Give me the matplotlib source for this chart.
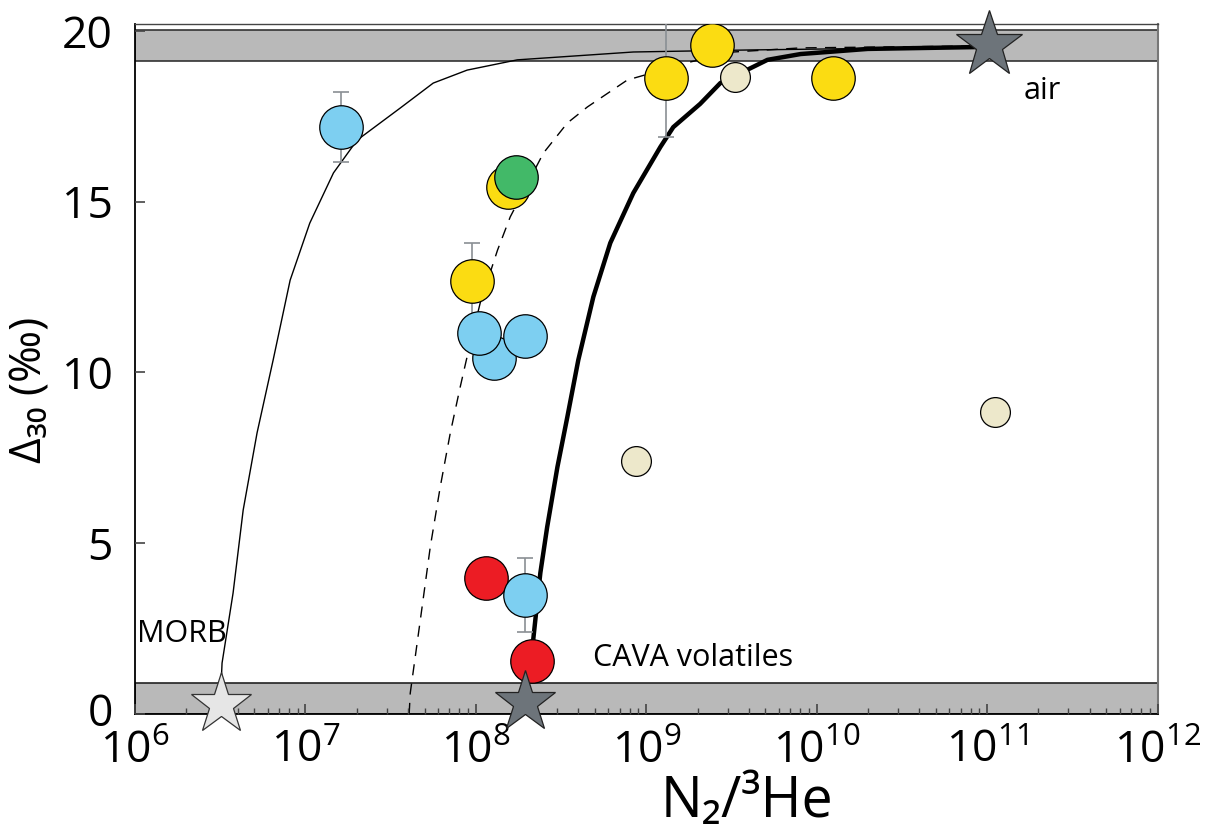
import matplotlib
matplotlib.use("Agg")
import matplotlib.pyplot as plt
import matplotlib.transforms as mtransforms

plt.rcParams['font.family'] = ['Open Sans', 'DejaVu Sans']
plt.rcParams['mathtext.fontset'] = 'custom'
plt.rcParams['mathtext.rm'] = 'Open Sans'
plt.rcParams['mathtext.it'] = 'Open Sans'
plt.rcParams['mathtext.bf'] = 'Open Sans'

# data points (N2/3He, Delta30)
blue_x = [1.28e8, 1.62e7, 1.05e8, 1.95e8, 1.95e8]
blue_y = [10.42, 17.18, 11.15, 11.07, 3.48]
yellow_x = [9.5e7, 1.55e8, 1.31e9, 2.44e9, 1.24e10]
yellow_y = [12.68, 15.43, 18.62, 19.58, 18.62]
green_x = [1.73e8]
green_y = [15.72]
red_x = [1.15e8, 2.14e8]
red_y = [3.98, 1.55]
beige_x = [3.33e9, 8.75e8, 1.12e11]
beige_y = [18.65, 7.41, 8.84]

# error bars
err_x = [1.62e7, 9.5e7, 1.31e9, 1.95e8]
err_y = [17.18, 12.68, 18.62, 3.48]
err_v = [1.02, 1.1, 1.73, 1.08]

# end members
morb = (3.2e6, 0.28)
cava = (1.95e8, 0.35)
air = (1.02e11, 19.58)

# mixing curves
thin_x = [3.16e6, 3.24e6, 3.76e6, 4.31e6, 5.20e6, 6.46e6, 8.13e6, 1.06e7, 1.46e7,
          2.01e7, 2.64e7, 3.60e7, 5.62e7, 8.89e7, 1.75e8, 8.39e8, 4.08e9, 1.02e11]
thin_y = [0.26, 1.49, 3.54, 5.97, 8.23, 10.36, 12.70, 14.37, 15.84,
          16.80, 17.24, 17.74, 18.47, 18.85, 19.15, 19.38, 19.44, 19.53]
dash_x = [4.06e7, 4.12e7, 4.72e7, 5.40e7, 6.18e7, 7.08e7, 8.09e7, 8.79e7, 1.06e8,
          1.34e8, 1.59e8, 2.49e8, 3.44e8, 4.51e8, 7.74e8, 1.82e9, 3.24e9, 8.04e9, 1.02e11]
dash_y = [0.0, 0.61, 2.75, 4.89, 6.65, 8.23, 9.57, 10.36, 12.03,
          13.58, 14.55, 16.42, 17.30, 17.77, 18.56, 19.09, 19.38, 19.50, 19.56]
thick_x = [1.95e8, 2.17e8, 2.39e8, 2.62e8, 3.01e8, 3.44e8, 3.99e8, 4.89e8, 6.15e8,
           8.39e8, 1.21e9, 1.44e9, 2.07e9, 2.72e9, 5.14e9, 8.04e9, 1.99e10, 1.02e11]
thick_y = [0.32, 2.17, 4.13, 5.47, 7.23, 8.69, 10.36, 12.21, 13.79,
           15.25, 16.60, 17.18, 17.86, 18.47, 19.15, 19.32, 19.47, 19.53]

fig = plt.figure(figsize=(12.08, 8.3), dpi=100)
ax = fig.add_axes([0.1118, 0.1398, 0.8464, 0.8313])

ax.axhspan(19.12, 20.02, facecolor='#b9b9b9', edgecolor='#333333', lw=1.2, zorder=1)
ax.axhspan(0, 0.91, facecolor='#b9b9b9', edgecolor='#222222', lw=1.2, zorder=1)

ax.plot(thin_x, thin_y, color='black', lw=1.0, zorder=2)
ax.plot(dash_x, dash_y, color='black', lw=1.0, ls=(0, (8, 6)), zorder=2)
ax.plot(thick_x, thick_y, color='black', lw=3.2, zorder=2)

ax.errorbar(err_x, err_y, yerr=err_v, fmt='none', ecolor='#8a8f94', elinewidth=1.2,
            capsize=6, capthick=1.2, zorder=3)

S = 980
ax.scatter(red_x, red_y, s=S, c='#ec1c24', edgecolors='black', linewidths=0.9, zorder=4)
ax.scatter(yellow_x, yellow_y, s=S, c='#fbdc12', edgecolors='black', linewidths=0.9, zorder=4)
ax.scatter(green_x, green_y, s=S, c='#42b968', edgecolors='black', linewidths=0.9, zorder=4)
ax.scatter(blue_x, blue_y, s=S, c='#7dcff1', edgecolors='black', linewidths=0.9, zorder=4)
ax.scatter(beige_x, beige_y, s=460, c='#ede8cb', edgecolors='black', linewidths=0.9, zorder=4)

ax.plot(*morb, marker='*', ms=46, mfc='#e6e6e6', mec='#333333', mew=0.9, zorder=5, clip_on=False)
ax.plot(*cava, marker='*', ms=46, mfc='#6d747a', mec='#222222', mew=0.9, zorder=5, clip_on=False)
ax.plot(*air, marker='*', ms=50, mfc='#6d747a', mec='#222222', mew=0.9, zorder=5, clip_on=False)

ax.text(1.03e6, 2.1, 'MORB', fontsize=22, ha='left', va='baseline')
ax.text(4.9e8, 1.4, 'CAVA volatiles', fontsize=22, ha='left', va='baseline')
ax.text(1.64e11, 18.0, 'air', fontsize=22, ha='left', va='baseline')

ax.set_xscale('log')
ax.set_xlim(1e6, 1e12)
ax.set_ylim(0, 20.2)
ax.set_yticks([0, 5, 10, 15, 20])
ax.set_xticks([1e6, 1e7, 1e8, 1e9, 1e10, 1e11, 1e12])
ax.tick_params(axis='both', which='major', direction='in', labelsize=32, length=7, width=1.2,
               color='#444444', zorder=6)
ax.tick_params(axis='x', which='minor', direction='in', length=4, width=1, color='#444444')
ax.tick_params(axis='x', pad=11)
ax.tick_params(axis='y', pad=16)

# nudge the "0" label up a little so it clears the 10^6 label
zero_lbl = ax.get_yticklabels()[0]
zero_lbl.set_transform(zero_lbl.get_transform() + mtransforms.ScaledTranslation(0, 5 / 100, fig.dpi_scale_trans))

for side in ['left', 'bottom']:
    ax.spines[side].set_linewidth(1.3)
ax.spines['top'].set_linewidth(1.0)
ax.spines['top'].set_color('#444444')
ax.spines['right'].set_color('#777777')
ax.spines['right'].set_linewidth(1.5)
ax.set_axisbelow(False)

fig.text(747 / 1208, 1 - 817 / 830, 'N₂/³He', fontsize=40, ha='center', va='baseline')
fig.text(30 / 1208, 1 - 390 / 830, 'Δ₃₀ (‰)', fontsize=32, rotation=90, ha='center', va='center')

fig.savefig('out.png', dpi=100)
